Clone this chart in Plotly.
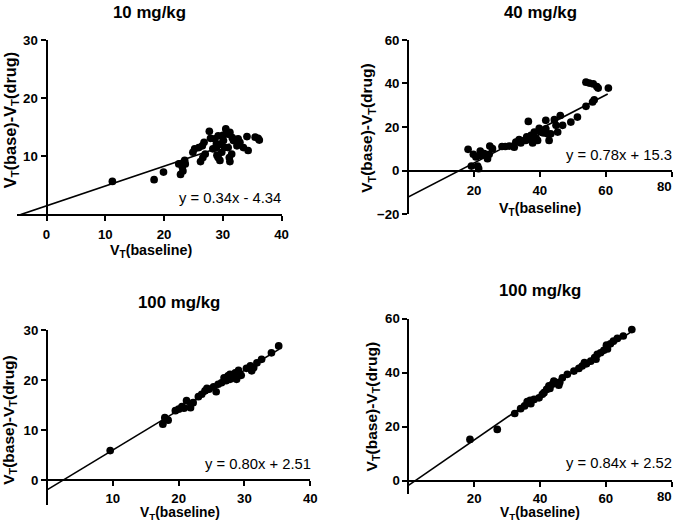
import plotly.graph_objects as go

W, H = 681, 528

# ---------------- data ----------------
titles = ["10 mg/kg", "40 mg/kg", "100 mg/kg", "100 mg/kg"]
equations = ["y = 0.34x - 4.34", "y = 0.78x + 15.3", "y = 0.80x + 2.51", "y = 0.84x + 2.52"]

p1_x = [11.2, 18.3, 19.9, 22.8, 22.5, 23.1, 23.5, 23.2, 23.6, 24.9, 25.2, 25.9, 26.2, 26.6,
        27.0, 26.5, 26.8, 27.7, 27.9, 28.9, 28.9, 29.2, 29.2, 29.5, 29.8, 30.1, 30.5, 30.9,
        31.2, 30.9, 31.1, 31.2, 31.5, 31.8, 32.4, 32.9, 33.5, 34.1, 34.3, 35.5, 36.0, 36.2,
        32.6, 28.6, 30.3, 29.5, 28.3, 30.0, 31.6, 29.0]
p1_y = [5.7, 6.0, 7.3, 6.9, 8.7, 8.2, 9.3, 7.5, 8.7, 10.7, 11.3, 11.5, 9.1, 9.8,
        10.4, 11.8, 12.4, 14.3, 13.1, 12.1, 11.5, 13.5, 9.8, 9.3, 10.7, 12.7, 14.7, 13.8,
        14.1, 11.5, 9.8, 9.1, 10.4, 12.7, 11.8, 12.4, 11.5, 13.4, 11.0, 13.3, 13.1, 12.8,
        13.0, 13.0, 11.5, 12.1, 11.3, 13.6, 13.2, 10.2]

p2_x = [18.2, 19.8, 19.2, 21.1, 21.4, 20.6, 21.9, 22.1, 23.1, 24.1, 24.6, 24.8, 25.6, 28.5,
        29.5, 30.7, 32.2, 32.7, 33.7, 34.2, 35.7, 36.5, 36.8, 37.3, 37.8, 38.3, 38.8, 39.3,
        39.8, 40.3, 41.1, 41.8, 42.3, 42.8, 43.3, 44.4, 44.9, 45.4, 46.2, 46.9, 49.4, 51.4,
        54.0, 54.0, 55.0, 56.2, 57.3, 57.7, 56.5, 56.0, 60.8, 41.8, 36.0, 38.0, 40.0]
p2_y = [9.8, 7.5, 2.1, 2.1, 0.9, 6.3, 9.0, 7.0, 7.8, 5.5, 7.5, 11.3, 10.1, 11.1,
        11.1, 11.3, 10.8, 13.1, 14.2, 12.7, 13.9, 22.6, 14.7, 16.2, 12.7, 17.7, 15.1, 13.9,
        19.4, 17.7, 17.3, 19.2, 16.9, 13.9, 16.9, 23.4, 20.8, 17.7, 25.3, 20.8, 22.3, 24.6,
        29.5, 40.6, 40.2, 39.8, 38.6, 37.9, 32.5, 31.5, 37.9, 23.1, 15.5, 15.0, 18.5]

p3_x = [9.6, 17.6, 17.9, 18.4, 19.5, 20.0, 20.5, 21.2, 21.8, 22.2, 23.0, 23.5, 24.0, 24.3,
        25.3, 25.7, 26.0, 26.5, 26.9, 27.2, 27.5, 27.8, 28.3, 28.6, 28.8, 29.1, 30.3, 30.9,
        31.4, 31.9, 32.6, 34.1, 35.2, 31.1, 27.8, 20.8, 24.6, 29.5]
p3_y = [5.9, 11.2, 12.5, 12.0, 13.9, 14.2, 14.7, 15.9, 14.5, 15.5, 16.7, 17.2, 17.9, 18.4,
        18.7, 17.7, 19.2, 19.5, 20.5, 19.9, 20.9, 20.2, 20.5, 21.5, 20.2, 22.0, 22.4, 22.9,
        22.5, 23.5, 24.2, 25.5, 26.9, 21.9, 21.2, 14.4, 18.2, 21.0]

p4_x = [18.7, 27.0, 32.3, 34.1, 35.3, 36.1, 37.2, 38.2, 39.7, 40.7, 42.0, 42.7, 43.7, 44.7,
        45.7, 46.8, 48.3, 50.3, 51.8, 52.8, 54.1, 55.4, 56.6, 57.4, 58.4, 59.4, 60.2, 61.4,
        62.3, 63.5, 65.3, 67.9, 41.2, 44.2, 37.0, 46.0, 53.5, 60.5, 43.0, 57.0]
p4_y = [15.3, 19.0, 24.9, 26.7, 27.7, 29.3, 28.5, 30.1, 30.7, 32.0, 33.8, 35.1, 35.7, 36.3,
        35.4, 38.1, 39.4, 40.6, 41.6, 42.5, 43.3, 44.3, 45.6, 46.8, 47.4, 48.3, 50.2, 50.7,
        51.7, 52.7, 53.6, 56.0, 32.6, 36.9, 29.8, 36.5, 43.8, 48.8, 34.2, 45.0]

# fitted lines (slope, intercept, x start, x end)
fit_slope = [0.34, 0.78, 0.80, 0.84]
fit_icpt = [1.5, -12.1, -2.0, -1.7]
fit_x0 = [-4.4, 0.0, 0.0, 0.0]
fit_x1 = [31.2, 60.6, 35.3, 68.0]

x_ranges = [[-5, 40], [0, 80], [0, 40], [0, 80]]
y_ranges = [[0, 30], [-20, 60], [-5, 30], [-5, 60]]
x_ticks = [[0, 10, 20, 30, 40], [20, 40, 60, 80], [10, 20, 30, 40], [20, 40, 60, 80]]
y_ticks = [[10, 20, 30], [-20, 0, 20, 40, 60], [0, 10, 20, 30], [0, 20, 40, 60]]

xs = [p1_x, p2_x, p3_x, p4_x]
ys = [p1_y, p2_y, p3_y, p4_y]

# ---------------- layout geometry (target pixels in the picture) ----------------
boxes = [(17.7, 281.7, 39.0, 214.0), (408.0, 671.0, 39.0, 213.7),
         (47.5, 310.3, 330.0, 504.7), (408.3, 671.0, 318.3, 494.0)]
xaxis_py = [214.0, 170.3, 480.0, 480.3]
yaxis_px = [47.0, 408.0, 47.5, 408.3]
title_pos = [(150, 12), (540, 12), (179, 302), (540, 290)]
ytitle_pos = [(11, 119), (368, 127), (10, 419), (372, 406)]
ytitle_size = [16.0, 15.2, 15.2, 15.2]
xtitle_pos = [(151, 250), (540, 208), (180, 513), (540, 512.5)]
xtitle_size = [14.0, 14.0, 13.6, 13.6]
xlabel_standoff = [2, 2, 1, 1]
eq_pos = [(283, 197), (676, 154), (313, 464), (676, 463)]

# the photographed page is mapped onto the picture as: pic = S * page + O
SX, OX = 0.988, 0.56
SY, OY = 0.973, 6.1
FS = 1.0 / 0.98   # font compensation for that scaling

def fx(p):
    page = min((p - OX) / SX, W - 0.5)
    return page / W

def fy(p):
    page = (p - OY) / SY
    return (H - page) / H

FONT = "Liberation Sans, Arial, sans-serif"

fig = go.Figure()
layout = dict(width=W, height=H, margin=dict(l=0, r=0, t=0, b=0),
              plot_bgcolor="white", paper_bgcolor="white", showlegend=False,
              font=dict(family=FONT, color="black", size=13))
annotations = []

for i in range(4):
    n = "" if i == 0 else str(i + 1)
    xa, ya = "x" + n, "y" + n
    l, r, t, b = boxes[i]
    fig.add_trace(go.Scatter(x=xs[i], y=ys[i], mode="markers", xaxis=xa, yaxis=ya,
                             marker=dict(color="black", size=7.7, line=dict(width=0))))
    lx = [fit_x0[i], fit_x1[i]]
    ly = [fit_slope[i] * v + fit_icpt[i] for v in lx]
    fig.add_trace(go.Scatter(x=lx, y=ly, mode="lines", xaxis=xa, yaxis=ya,
                             line=dict(color="black", width=1.6)))
    axcommon = dict(showline=True, linecolor="black", linewidth=2, ticks="outside",
                    ticklen=5, tickwidth=2, tickcolor="black", showgrid=False,
                    zeroline=False, anchor="free", ticklabeloverflow="allow",
                    tickfont=dict(family=FONT, size=13 * FS, color="black", weight="bold"))
    # the last x label at the window's right edge is drawn as a text just inside it
    xt_text = [str(v) for v in x_ticks[i]]
    edge_label = None
    if fx(r) * W > W - 12:
        edge_label = xt_text[-1]
        xt_text[-1] = ""
    layout["xaxis" + n] = dict(domain=[fx(l), fx(r)], range=x_ranges[i],
                               tickvals=x_ticks[i], ticktext=xt_text,
                               ticklabelstandoff=xlabel_standoff[i],
                               position=fy(xaxis_py[i]), **axcommon)
    layout["yaxis" + n] = dict(domain=[fy(b), fy(t)], range=y_ranges[i],
                               tickvals=y_ticks[i], position=fx(yaxis_px[i]), **axcommon)
    if edge_label is not None:
        annotations.append(dict(text="<b>" + edge_label + "</b>", x=(W - 0.5) / W,
                                y=fy(xaxis_py[i] + 16.0), xref="paper", yref="paper",
                                showarrow=False, xanchor="right", yanchor="middle",
                                font=dict(size=13 * FS)))
    annotations.append(dict(text="<b>" + titles[i] + "</b>", x=fx(title_pos[i][0]),
                            y=fy(title_pos[i][1]), xref="paper", yref="paper",
                            showarrow=False, xanchor="center", yanchor="middle",
                            font=dict(size=16.5 * FS)))
    annotations.append(dict(text="<b>V<sub>T</sub>(base)-V<sub>T</sub>(drug)</b>",
                            x=fx(ytitle_pos[i][0]), y=fy(ytitle_pos[i][1]),
                            xref="paper", yref="paper", showarrow=False, textangle=-90,
                            xanchor="center", yanchor="middle",
                            font=dict(size=ytitle_size[i] * FS)))
    annotations.append(dict(text="<b>V<sub>T</sub>(baseline)</b>",
                            x=fx(xtitle_pos[i][0]), y=fy(xtitle_pos[i][1]),
                            xref="paper", yref="paper", showarrow=False,
                            xanchor="center", yanchor="middle",
                            font=dict(size=xtitle_size[i] * FS)))
    annotations.append(dict(text=equations[i], x=fx(eq_pos[i][0]), y=fy(eq_pos[i][1]),
                            xref="paper", yref="paper", showarrow=False,
                            xanchor="right", yanchor="middle", font=dict(size=14.5 * FS)))

layout["annotations"] = annotations
fig.update_layout(**layout)
# remove the browser's default page margin / scrollbars so the figure fills the window exactly
page_js = ("document.documentElement.style.margin='0';"
           "document.documentElement.style.overflow='hidden';"
           "document.body.style.margin='0';"
           "document.body.style.overflow='hidden';")
fig.write_html("out.html", config={"displayModeBar": False}, post_script=page_js)
